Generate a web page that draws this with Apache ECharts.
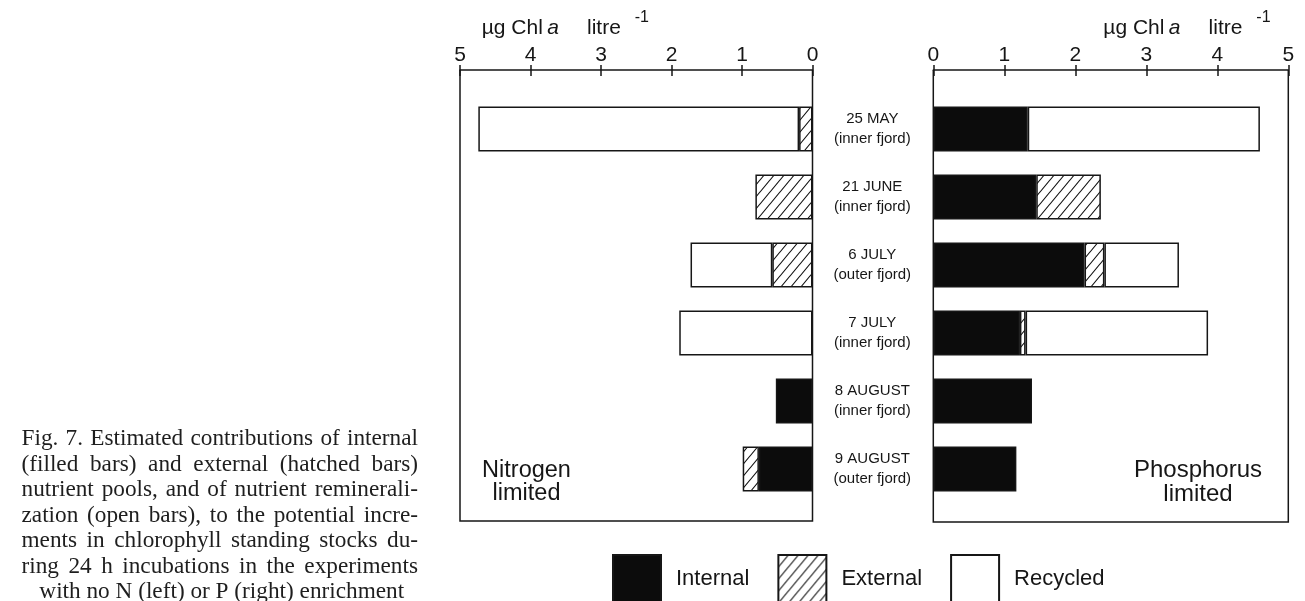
<!DOCTYPE html>
<html>
<head>
<meta charset="utf-8">
<title>Fig. 7 – nutrient pool contributions</title>
<script src="https://cdn.jsdelivr.net/npm/echarts@6/dist/echarts.min.js"></script>
<style>
  html, body { margin: 0; padding: 0; background: #fff; }
  #chart { width: 1305px; height: 601px; }
</style>
</head>
<body>
<div id="chart"></div>
<script>
// Experiment dates and sampling sites (one bar row each)
const dates = ['25 MAY', '21 JUNE', '6 JULY', '7 JULY', '8 AUGUST', '9 AUGUST'];
const sites = ['inner fjord', 'inner fjord', 'outer fjord', 'inner fjord', 'inner fjord', 'outer fjord'];

// Axis ticks (µg Chl a per litre)
const tickMin = 0;
const tickMax = 5;
const tickStep = 1;

// Nitrogen-limited experiments (left panel)
const nInternal = [0, 0, 0, 0, 0.52, 0.76];
const nExternal = [0.19, 0.81, 0.57, 0, 0, 0.23];
const nRecycled = [4.55, 0, 1.16, 1.89, 0, 0];

// Phosphorus-limited experiments (right panel)
const pInternal = [1.33, 1.45, 2.13, 1.22, 1.39, 1.17];
const pExternal = [0, 0.91, 0.28, 0.08, 0, 0];
const pRecycled = [3.27, 0, 1.05, 2.57, 0, 0];

const poolNames = ['Internal', 'External', 'Recycled'];

const captionLines = [
  'Fig. 7. Estimated contributions of internal',
  '(filled bars) and external (hatched bars)',
  'nutrient pools, and of nutrient reminerali-',
  'zation (open bars), to the potential incre-',
  'ments in chlorophyll standing stocks du-',
  'ring 24 h incubations in the experiments',
  'with no N (left) or P (right) enrichment'
];

// ---- layout ----
const INK = '#161616';
const SANS = '"Liberation Sans", Arial, Helvetica, sans-serif';
const SERIF_NAME = 'Liberation Serif';
const axisY = 70;
const gridTop = 95;
const gridH = 408;
const frameBottomL = 521;
const frameBottomR = 522;
const L = { left: 460, width: 352.5 };
const R = { left: 933.3, width: 355 };

// diagonal hatch tile for the external pool
function hatchTile() {
  const w = 10, h = 12;
  const c = document.createElement('canvas');
  c.width = w; c.height = h;
  const g = c.getContext('2d');
  g.fillStyle = '#fff';
  g.fillRect(0, 0, w, h);
  g.strokeStyle = '#111';
  g.lineWidth = 1.1;
  g.beginPath();
  g.moveTo(0, h); g.lineTo(w, 0);
  g.moveTo(-w * 0.2, h * 0.2); g.lineTo(w * 0.2, -h * 0.2);
  g.moveTo(w * 0.8, h * 1.2); g.lineTo(w * 1.2, h * 0.8);
  g.stroke();
  return c;
}
const hatch = { image: hatchTile(), repeat: 'repeat' };

const fills = {
  Internal: '#0c0c0c',
  External: hatch,
  Recycled: '#ffffff'
};

const nonZero = arr => arr.map(v => (v ? v : '-'));

function barSeries(name, values, xIdx, yIdx, stack) {
  return {
    type: 'bar',
    name: name,
    stack: stack,
    xAxisIndex: xIdx,
    yAxisIndex: yIdx,
    barWidth: 45,
    data: nonZero(values),
    itemStyle: { color: fills[name], borderColor: INK, borderWidth: 1.5 },
    emphasis: { disabled: true },
    animation: false
  };
}

function valueAxis(gridIndex, inverse, withLabels) {
  return {
    type: 'value',
    gridIndex: gridIndex,
    position: 'top',
    offset: gridTop - axisY,
    inverse: inverse,
    min: tickMin,
    max: tickMax,
    interval: tickStep,
    splitLine: { show: false },
    axisLine: { show: withLabels, lineStyle: { color: INK, width: 1.5 } },
    axisTick: {
      show: true,
      inside: !withLabels,
      length: withLabels ? 5 : 6,
      lineStyle: { color: INK, width: 1.5 }
    },
    axisLabel: {
      show: withLabels,
      margin: 4,
      fontFamily: SANS,
      fontSize: 21,
      color: INK
    }
  };
}

// caption text, justified line by line
function captionGraphics() {
  const x0 = 21.5, x1 = 418;
  const ctx = document.createElement('canvas').getContext('2d');
  // largest serif size at which every justified line still has normal word spacing
  let size = 24;
  while (size > 14) {
    ctx.font = size + 'px "' + SERIF_NAME + '"';
    const widest = Math.max(...captionLines.slice(0, -1).map(l => ctx.measureText(l).width));
    if (widest <= (x1 - x0) - 4) break;
    size -= 0.25;
  }
  const font = size + 'px "' + SERIF_NAME + '"';
  ctx.font = font;
  const out = [];
  captionLines.forEach((line, i) => {
    const base = 447.3 + i * 25.5;
    const y = base - 0.346 * size;
    if (i === captionLines.length - 1) {
      out.push({
        type: 'text', silent: true,
        style: { text: line, x: (x0 + x1) / 2 + 2, y: y, font: font, fill: '#1e1e1e', align: 'center', verticalAlign: 'middle' }
      });
      return;
    }
    const words = line.split(' ');
    const widths = words.map(w => ctx.measureText(w).width);
    const total = widths.reduce((a, b) => a + b, 0);
    const gap = (x1 - x0 - total) / (words.length - 1);
    let x = x0;
    words.forEach((w, k) => {
      out.push({
        type: 'text', silent: true,
        style: { text: w, x: x, y: y, font: font, fill: '#1e1e1e', align: 'left', verticalAlign: 'middle' }
      });
      x += widths[k] + gap;
    });
  });
  return out;
}

// "µg Chl a litre -1" axis units, placed piecewise
function unitTitle(x0) {
  const y = 28.4;
  const pieces = [
    { t: 'µg Chl', dx: 0, f: '21px ' + SANS },
    { t: 'a', dx: 65.5, f: 'italic 21px ' + SANS },
    { t: 'litre', dx: 105.3, f: '21px ' + SANS },
    { t: '-1', dx: 153, f: '16px ' + SANS, y: 17.5 }
  ];
  return pieces.map(p => ({
    type: 'text', silent: true,
    style: { text: p.t, x: x0 + p.dx, y: p.y != null ? p.y : y, font: p.f, fill: INK, align: 'left', verticalAlign: 'middle' }
  }));
}

function frame(x0, x1, yBottom) {
  return {
    type: 'polyline', silent: true,
    shape: { points: [[x0, axisY], [x0, yBottom], [x1, yBottom], [x1, axisY]] },
    style: { stroke: INK, lineWidth: 1.5, fill: null }
  };
}

function panelNote(lines, cx, y0, size, lh) {
  return lines.map((t, i) => ({
    type: 'text', silent: true,
    style: { text: t, x: cx, y: y0 + i * lh, font: size + 'px ' + SANS, fill: INK, align: 'center', verticalAlign: 'middle' }
  }));
}

const chart = echarts.init(document.getElementById('chart'), null, { renderer: 'canvas' });

chart.setOption({
  backgroundColor: '#ffffff',
  animation: false,
  grid: [
    { left: L.left, top: gridTop, width: L.width, height: gridH },
    { left: R.left, top: gridTop, width: R.width, height: gridH }
  ],
  xAxis: [
    valueAxis(0, true, true),
    valueAxis(0, true, false),
    valueAxis(1, false, true),
    valueAxis(1, false, false)
  ],
  yAxis: [
    {
      type: 'category', gridIndex: 0, data: dates, inverse: true,
      axisLine: { show: false }, axisTick: { show: false }, axisLabel: { show: false }
    },
    {
      type: 'category', gridIndex: 1, data: dates, inverse: true, position: 'left',
      axisLine: { show: false }, axisTick: { show: false },
      axisLabel: {
        margin: 61,
        align: 'center',
        formatter: (v, i) => '{d|' + v + '}\n{s|(' + sites[i] + ')}',
        rich: {
          d: { fontFamily: SANS, fontSize: 15, lineHeight: 20, color: INK, align: 'center' },
          s: { fontFamily: SANS, fontSize: 15, lineHeight: 20, color: INK, align: 'center' }
        }
      }
    }
  ],
  legend: {
    data: poolNames,
    left: 612,
    top: 554,
    padding: 0,
    itemWidth: 48,
    itemHeight: 47,
    itemGap: 28,
    selectedMode: false,
    icon: 'rect',
    textStyle: { fontFamily: SANS, fontSize: 22, color: INK, padding: [0, 0, 0, 10] }
  },
  series: [
    barSeries('Internal', nInternal, 0, 0, 'N'),
    barSeries('External', nExternal, 0, 0, 'N'),
    barSeries('Recycled', nRecycled, 0, 0, 'N'),
    barSeries('Internal', pInternal, 2, 1, 'P'),
    barSeries('External', pExternal, 2, 1, 'P'),
    barSeries('Recycled', pRecycled, 2, 1, 'P')
  ],
  graphic: [
    frame(L.left, L.left + L.width, frameBottomL),
    frame(R.left, R.left + R.width, frameBottomR),
    ...unitTitle(481.7),
    ...unitTitle(1103.3),
    ...panelNote(['Nitrogen', 'limited'], 526.5, 471, 23.5, 22.5),
    ...panelNote(['Phosphorus', 'limited'], 1198, 470, 24, 24),
    ...captionGraphics()
  ]
});
</script>
</body>
</html>
